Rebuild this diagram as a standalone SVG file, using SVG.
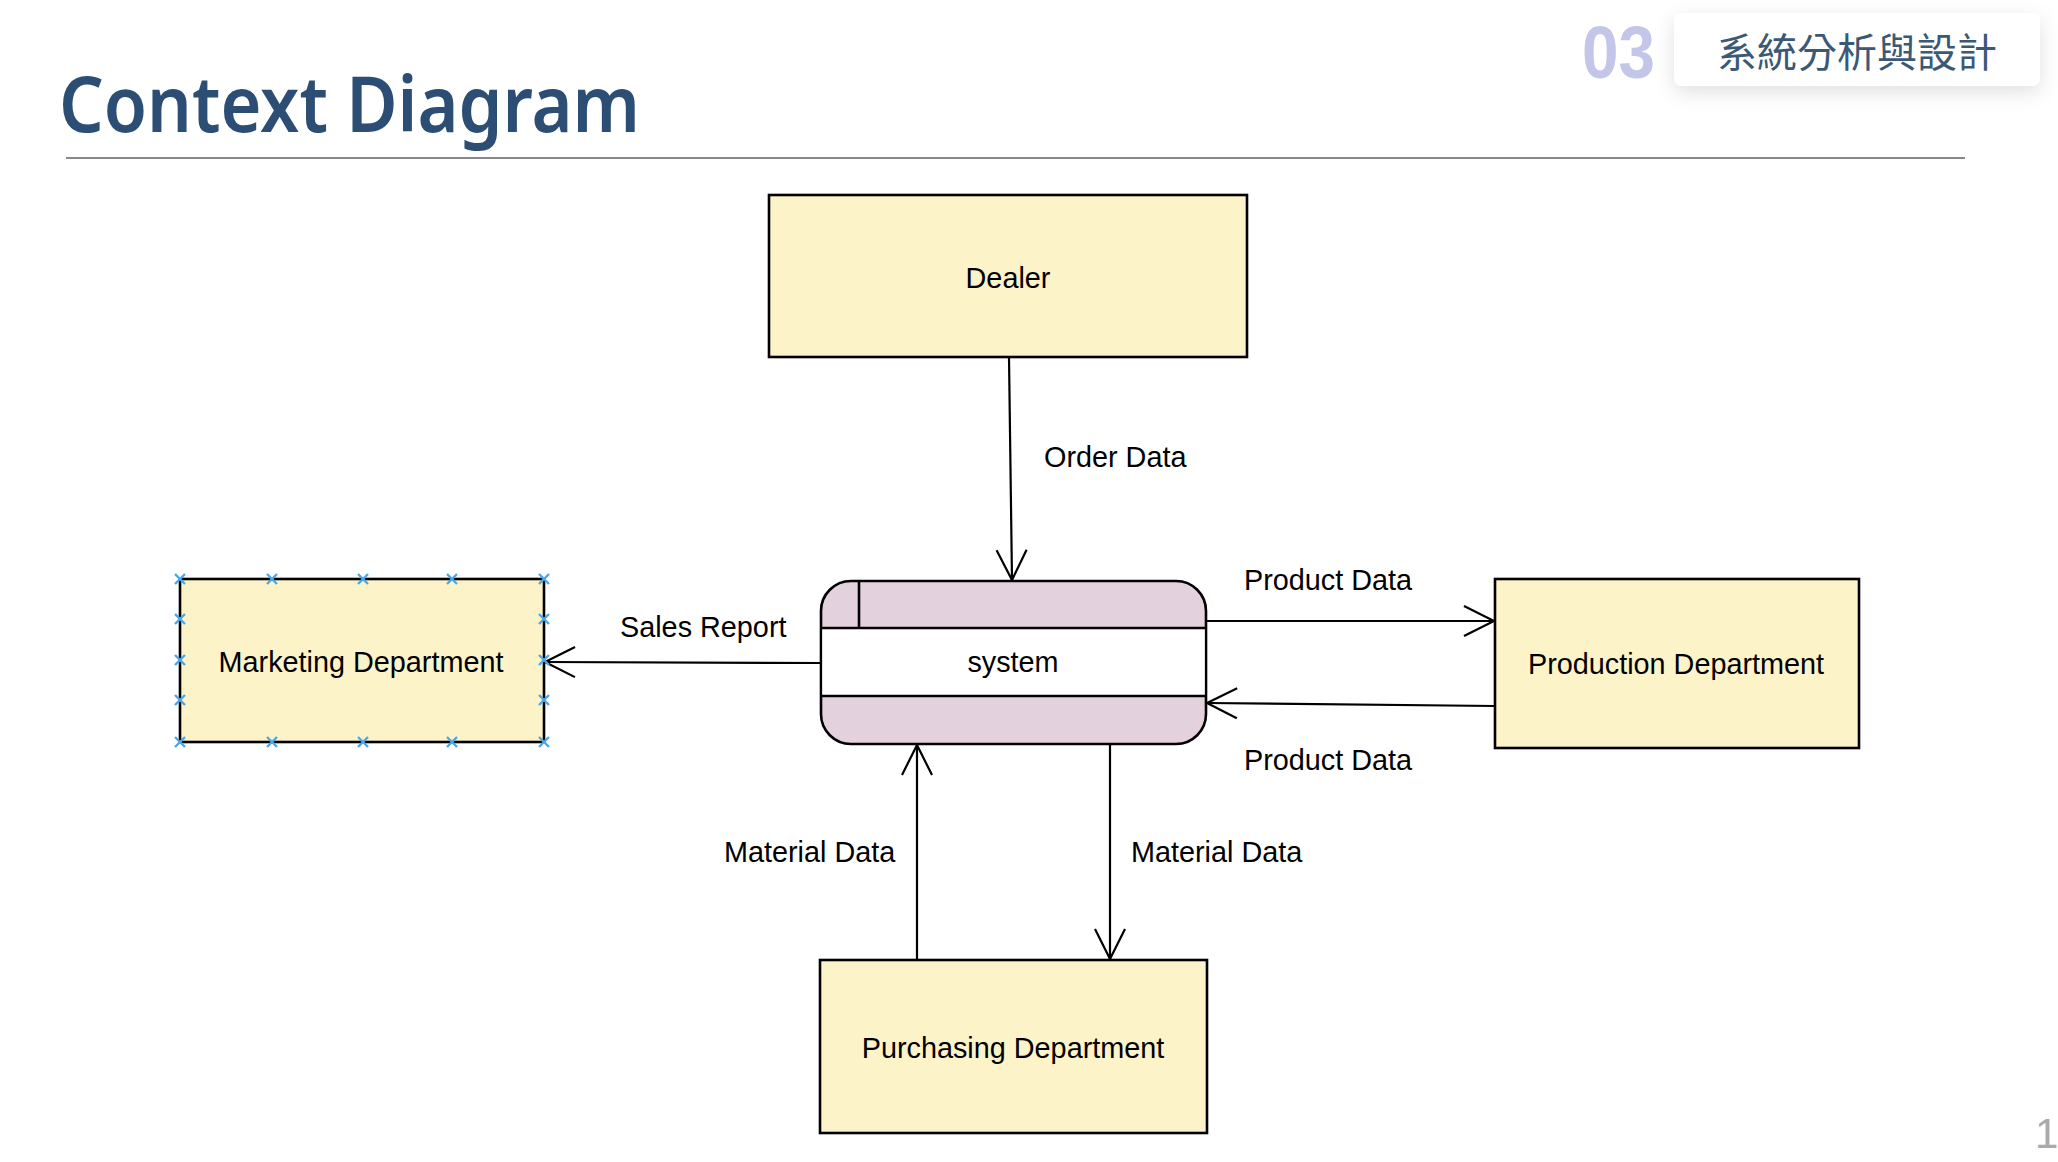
<svg xmlns="http://www.w3.org/2000/svg" width="2058" height="1162" viewBox="0 0 2058 1162">
<style>
.box{fill:#fdf3c9;stroke:#000;stroke-width:2.6}
.lbl{font-family:"Liberation Sans",Arial,sans-serif;font-size:28.8px;fill:#000}
.mid{text-anchor:middle}
.con{fill:none;stroke:#000;stroke-width:2.2}
.x{stroke:#4aa8ea;stroke-width:2.4;fill:none}
</style>
<defs>
<marker id="arr" markerUnits="userSpaceOnUse" markerWidth="44" markerHeight="44" viewBox="-36 -22 44 44" refX="0" refY="0" orient="auto">
<path d="M-30,-15 L0,0 L-30,15" fill="none" stroke="#000" stroke-width="2.2"/>
</marker>
<filter id="sh" x="-20%" y="-60%" width="140%" height="240%">
<feDropShadow dx="0" dy="6" stdDeviation="10" flood-color="#000" flood-opacity="0.12"/>
</filter>
<path id="xm" d="M-5,-5 L5,5 M-5,5 L5,-5" class="x"/>
</defs>
<rect width="2058" height="1162" fill="#fff"/>

<g id="header">
<text x="59" y="132" font-family="'Noto Sans','Open Sans',sans-serif" font-size="77" font-weight="600" fill="#2c4e74" textLength="581" lengthAdjust="spacingAndGlyphs">Context Diagram</text>
<line x1="66" y1="158" x2="1965" y2="158" stroke="#888" stroke-width="2"/>
<text x="1582" y="78" font-family="'Liberation Sans',Arial,sans-serif" font-size="74" font-weight="bold" fill="#c3c6e8" textLength="73" lengthAdjust="spacingAndGlyphs">03</text>
<rect x="1674" y="13" width="366" height="73" rx="8" fill="#fff" filter="url(#sh)"/>
<text x="1857" y="67" text-anchor="middle" font-family="'Noto Sans CJK TC','Noto Sans CJK SC',sans-serif" font-size="40" fill="#3b5875">系統分析與設計</text>
<text x="2035" y="1148" font-family="'Liberation Sans',Arial,sans-serif" font-size="42" fill="#aaa">1</text>
</g>

<g id="connectors">
<line class="con" x1="1009" y1="357" x2="1012" y2="580" marker-end="url(#arr)"/>
<line class="con" x1="821" y1="663" x2="545" y2="662" marker-end="url(#arr)"/>
<line class="con" x1="1206" y1="621" x2="1494" y2="621" marker-end="url(#arr)"/>
<line class="con" x1="1495" y1="706" x2="1207" y2="703" marker-end="url(#arr)"/>
<line class="con" x1="917" y1="960" x2="917" y2="745" marker-end="url(#arr)"/>
<line class="con" x1="1110" y1="744" x2="1110" y2="959" marker-end="url(#arr)"/>
<text class="lbl" x="1044" y="467">Order Data</text>
<text class="lbl" x="620" y="637">Sales Report</text>
<text class="lbl" x="1244" y="590">Product Data</text>
<text class="lbl" x="1244" y="770">Product Data</text>
<text class="lbl" x="724" y="862">Material Data</text>
<text class="lbl" x="1131" y="862">Material Data</text>
</g>

<g id="dealer">
<rect class="box" x="769" y="195" width="478" height="162"/>
<text class="lbl mid" x="1008" y="288">Dealer</text>
</g>

<g id="marketing">
<rect class="box" x="180" y="579" width="364" height="163"/>
<text class="lbl mid" x="361" y="672">Marketing Department</text>
<g>
<use href="#xm" x="180" y="579"/><use href="#xm" x="272" y="579"/><use href="#xm" x="363" y="579"/><use href="#xm" x="452" y="579"/><use href="#xm" x="544" y="579"/>
<use href="#xm" x="180" y="742"/><use href="#xm" x="272" y="742"/><use href="#xm" x="363" y="742"/><use href="#xm" x="452" y="742"/><use href="#xm" x="544" y="742"/>
<use href="#xm" x="180" y="619"/><use href="#xm" x="180" y="660"/><use href="#xm" x="180" y="700"/>
<use href="#xm" x="544" y="619"/><use href="#xm" x="544" y="660"/><use href="#xm" x="544" y="700"/>
</g>
</g>

<g id="system">
<rect x="821" y="581" width="385" height="163" rx="30" fill="#e3d2de" stroke="#000" stroke-width="2.6"/>
<rect x="822.3" y="628" width="382.4" height="68" fill="#fff"/>
<line x1="821" y1="628" x2="1206" y2="628" stroke="#000" stroke-width="2.6"/>
<line x1="821" y1="696" x2="1206" y2="696" stroke="#000" stroke-width="2.6"/>
<line x1="859" y1="581" x2="859" y2="628" stroke="#000" stroke-width="2.6"/>
<text class="lbl mid" x="1013" y="672">system</text>
</g>

<g id="production">
<rect class="box" x="1495" y="579" width="364" height="169"/>
<text class="lbl mid" x="1676" y="674">Production Department</text>
</g>

<g id="purchasing">
<rect class="box" x="820" y="960" width="387" height="173"/>
<text class="lbl mid" x="1013" y="1058">Purchasing Department</text>
</g>
</svg>
